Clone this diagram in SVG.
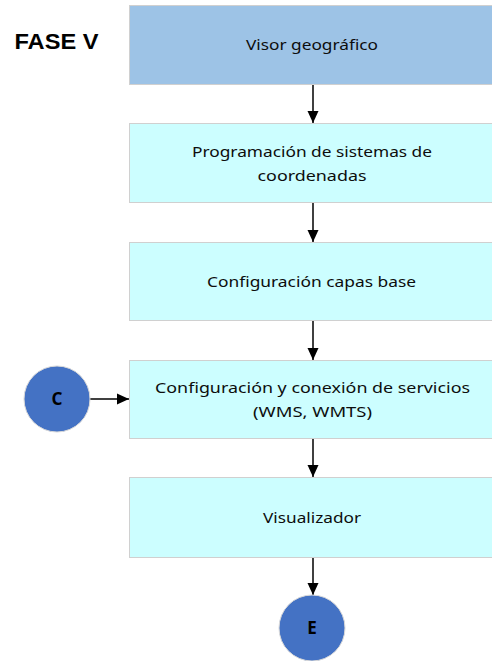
<svg xmlns="http://www.w3.org/2000/svg" width="492" height="661" viewBox="0 0 492 661">
<style>
.box{stroke:#d0d0d0;stroke-width:1}
.b1{fill:#9dc3e6}
.b2{fill:#ccfeff}
.t{font-family:"Noto Sans","Open Sans",sans-serif;font-size:15px;fill:#0d0d0d;text-anchor:middle}
.circ{fill:#4472c4;stroke:#d9d9d9;stroke-width:1}
.ct{font-family:"Noto Sans","Open Sans",sans-serif;font-size:17px;font-weight:bold;fill:#000;text-anchor:middle}
.ln{stroke:#000;stroke-width:1.5;fill:none}
</style>
<defs>
<marker id="ah" markerWidth="12" markerHeight="12" refX="12" refY="6" orient="auto" markerUnits="userSpaceOnUse">
<path d="M0,0.5 L12,6 L0,11.5 Z" fill="#000"/>
</marker>
</defs>
<text x="14.5" y="48.5" font-family="'Liberation Sans',Arial,sans-serif" font-size="22" font-weight="bold" textLength="84" lengthAdjust="spacingAndGlyphs">FASE V</text>
<g id="connectors">
<line class="ln" x1="313" y1="84" x2="313" y2="123" marker-end="url(#ah)"/>
<line class="ln" x1="313" y1="202" x2="313" y2="242" marker-end="url(#ah)"/>
<line class="ln" x1="313" y1="320" x2="313" y2="360" marker-end="url(#ah)"/>
<line class="ln" x1="313" y1="438" x2="313" y2="477" marker-end="url(#ah)"/>
<line class="ln" x1="313" y1="557" x2="313" y2="595" marker-end="url(#ah)"/>
<line class="ln" x1="90" y1="399" x2="129" y2="399" marker-end="url(#ah)"/>
</g>
<g id="n1">
<rect class="box b1" x="129.5" y="5.5" width="363" height="79"/>
<text class="t" x="312" y="49.5" textLength="132" lengthAdjust="spacingAndGlyphs">Visor geográfico</text>
</g>
<g id="n2">
<rect class="box b2" x="129.5" y="123.5" width="363" height="79"/>
<text class="t" x="312" y="157" textLength="240" lengthAdjust="spacingAndGlyphs">Programación de sistemas de</text>
<text class="t" x="312" y="181" textLength="109" lengthAdjust="spacingAndGlyphs">coordenadas</text>
</g>
<g id="n3">
<rect class="box b2" x="129.5" y="242.5" width="363" height="78"/>
<text class="t" x="311.5" y="286.5" textLength="209" lengthAdjust="spacingAndGlyphs">Configuración capas base</text>
</g>
<g id="n4">
<rect class="box b2" x="129.5" y="360.5" width="363" height="78"/>
<text class="t" x="312.5" y="393" textLength="315" lengthAdjust="spacingAndGlyphs">Configuración y conexión  de servicios</text>
<text class="t" x="312.5" y="417" textLength="119" lengthAdjust="spacingAndGlyphs">(WMS, WMTS)</text>
</g>
<g id="n5">
<rect class="box b2" x="129.5" y="477.5" width="363" height="80"/>
<text class="t" x="312" y="523" textLength="98" lengthAdjust="spacingAndGlyphs">Visualizador</text>
</g>
<g id="nC">
<circle class="circ" cx="57" cy="399" r="33"/>
<text class="ct" x="57" y="405">C</text>
</g>
<g id="nE">
<circle class="circ" cx="312" cy="628" r="33"/>
<text class="ct" x="312" y="634">E</text>
</g>
</svg>
